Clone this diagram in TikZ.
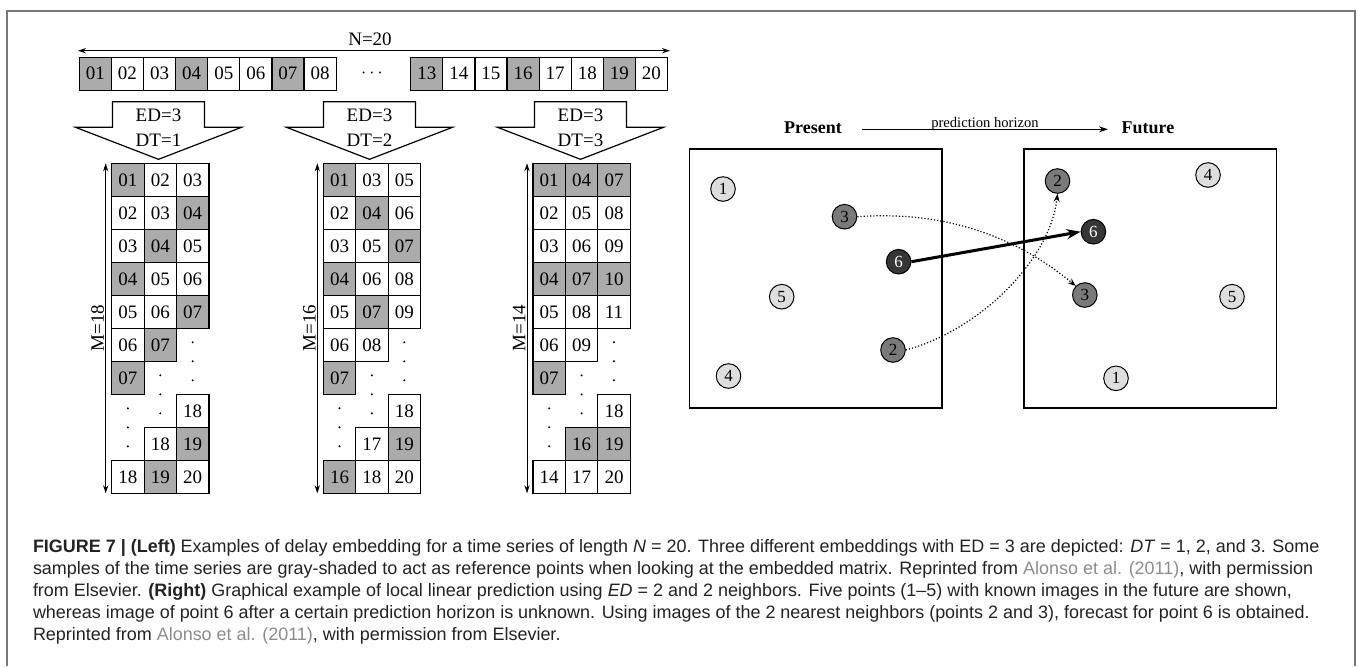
\documentclass[tikz,border=0pt]{standalone}
\usepackage{fontspec}
\usepackage{graphicx}
\setmainfont{Liberation Serif}
\newfontfamily\capfont{Liberation Sans}
\usetikzlibrary{arrows.meta}

\definecolor{cellgray}{HTML}{ABABAB}
\definecolor{ptlight}{HTML}{DEDEDE}
\definecolor{ptmid}{HTML}{7A7A7A}
\definecolor{ptdark}{HTML}{363636}
\definecolor{framegray}{HTML}{777777}
\definecolor{captext}{HTML}{222222}
\definecolor{linkgray}{HTML}{8C8C8C}

\newlength\caplinewd
\newcommand\capLineA{\textbf{FIGURE 7 | (Left)} Examples of delay embedding for a time series of length \textit{N} = 20. Three different embeddings with ED = 3 are depicted: \textit{DT} = 1, 2, and 3. Some}
\newcommand\capLineB{samples of the time series are gray-shaded to act as reference points when looking at the embedded matrix. Reprinted from \textcolor{linkgray}{Alonso et al. (2011)}, with permission}
\newcommand\capLineC{from Elsevier. \textbf{(Right)} Graphical example of local linear prediction using \textit{ED} = 2 and 2 neighbors. Five points (1–5) with known images in the future are shown,}
\newcommand\capLineD{whereas image of point 6 after a certain prediction horizon is unknown. Using images of the 2 nearest neighbors (points 2 and 3), forecast for point 6 is obtained.}
\newcommand\capLineE{Reprinted from \textcolor{linkgray}{Alonso et al. (2011)}, with permission from Elsevier.}
\newcommand\capstyle{\capfont\fontsize{7.5}{9}\selectfont}

% one embedded matrix: name, left edge, list of row/col/label/fill
\newcommand\drawcells[3]{%
  \foreach \r/\c/\t/\f in {#3} {
    \node[cell, fill=\f] (#1-\r-\c) at ({#2+(\c-0.5)*32.4},{163.3+(\r-0.5)*33}) {\t};
  }%
  % vertical ellipses in the empty parts of each column
  \foreach \c/\rc in {3/6, 2/7, 1/8} {
    \foreach \dy in {-19,0,19} {
      \fill ({#2+(\c-0.5)*32.4},{163.3+\rc*33+\dy}) circle (0.55pt);
    }
  }%
}

\tikzset{
  cell/.style={draw, line width=0.6pt, minimum width=16.2pt, minimum height=16.5pt,
    inner sep=0pt, font=\fontsize{9.5}{10}\selectfont},
  blk/.style={draw, line width=0.6pt, fill=white, line join=miter},
  dim/.style={line width=0.5pt, {Stealth[length=4pt,width=2.6pt]}-{Stealth[length=4pt,width=2.6pt]}},
  lbl/.style={inner sep=0pt, font=\fontsize{9.5}{10}\selectfont},
  pt/.style={circle, draw, line width=0.5pt, minimum size=12.3pt, inner sep=0pt,
    font=\fontsize{8.5}{9}\selectfont},
  panel/.style={draw, line width=0.7pt, minimum width=126.25pt, minimum height=129.5pt, inner sep=0pt},
}

\begin{document}
% caption lines share one horizontal scale, fixed by the first line
\settowidth\caplinewd{\capstyle\capLineA}
\pgfmathsetmacro\capfac{643.2/\caplinewd}
\begin{tikzpicture}[x=0.5pt, y=-0.5pt]
\useasboundingbox (0,0) rectangle (1358,666);

% outer frame, open at the bottom
\draw[framegray, line width=1pt] (7,666) -- (7,11) -- (1355,11) -- (1355,666);

% ---------- time series of length N ----------
\coordinate (nl) at (78,50.7);
\coordinate (nr) at (670,50.7);
\draw[dim] (nl) -- (nr);
\node[lbl] (ntitle) at (370,39.5) {N=20};

\foreach \i/\t/\f in {0/01/cellgray,1/02/white,2/03/white,3/04/cellgray,4/05/white,5/06/white,6/07/cellgray,7/08/white} {
  \node[cell, minimum width=16.05pt, fill=\f] (s\t) at ({79.3+(\i+0.5)*32.1},73.7) {\t};
}
\node[lbl] (sdots) at (372,73.7) {$\cdots$};
\foreach \i/\t/\f in {0/13/cellgray,1/14/white,2/15/white,3/16/cellgray,4/17/white,5/18/white,6/19/cellgray,7/20/white} {
  \node[cell, minimum width=16.05pt, fill=\f] (s\t) at ({410.7+(\i+0.5)*32.1},73.7) {\t};
}

% ---------- block arrows ----------
\foreach \cx/\dt in {158.5/1, 369.5/2, 580.5/3} {
  \draw[blk] ({\cx-46},101.7) -- ({\cx+46},101.7) -- ({\cx+46},127.3) -- ({\cx+83},127.3)
    -- (\cx,159.3) -- ({\cx-83},127.3) -- ({\cx-46},127.3) -- cycle;
  \node[lbl] (ed\dt) at (\cx,115) {ED=3};
  \node[lbl] (dt\dt) at (\cx,140) {DT=\dt};
}

% ---------- embedded matrices ----------
\drawcells{ma}{111.7}{1/1/01/cellgray,1/2/02/white,1/3/03/white,
  2/1/02/white,2/2/03/white,2/3/04/cellgray,
  3/1/03/white,3/2/04/cellgray,3/3/05/white,
  4/1/04/cellgray,4/2/05/white,4/3/06/white,
  5/1/05/white,5/2/06/white,5/3/07/cellgray,
  6/1/06/white,6/2/07/cellgray,
  7/1/07/cellgray,
  8/3/18/white,
  9/2/18/white,9/3/19/cellgray,
  10/1/18/white,10/2/19/cellgray,10/3/20/white}

\drawcells{mb}{323.3}{1/1/01/cellgray,1/2/03/white,1/3/05/white,
  2/1/02/white,2/2/04/cellgray,2/3/06/white,
  3/1/03/white,3/2/05/white,3/3/07/cellgray,
  4/1/04/cellgray,4/2/06/white,4/3/08/white,
  5/1/05/white,5/2/07/cellgray,5/3/09/white,
  6/1/06/white,6/2/08/white,
  7/1/07/cellgray,
  8/3/18/white,
  9/2/17/white,9/3/19/cellgray,
  10/1/16/cellgray,10/2/18/white,10/3/20/white}

\drawcells{mc}{533}{1/1/01/cellgray,1/2/04/cellgray,1/3/07/cellgray,
  2/1/02/white,2/2/05/white,2/3/08/white,
  3/1/03/white,3/2/06/white,3/3/09/white,
  4/1/04/cellgray,4/2/07/cellgray,4/3/10/cellgray,
  5/1/05/white,5/2/08/white,5/3/11/white,
  6/1/06/white,6/2/09/white,
  7/1/07/cellgray,
  8/3/18/white,
  9/2/16/cellgray,9/3/19/cellgray,
  10/1/14/white,10/2/17/white,10/3/20/white}

% number of embedded vectors
\foreach \x/\m/\nm in {111.7/18/a, 323.3/16/b, 533/14/c} {
  \coordinate (mtop\nm) at ({\x-6},163.3);
  \coordinate (mbot\nm) at ({\x-6},493.3);
  \draw[dim] (mtop\nm) -- (mbot\nm);
  \node[lbl, rotate=90] (mlab\nm) at ({\x-14},328) {M=\m};
}

% ---------- local linear prediction ----------
\node[inner sep=0pt, anchor=base, font=\bfseries\fontsize{9}{10}\selectfont] (present) at (813,133) {Present};
\node[inner sep=0pt, anchor=base, font=\bfseries\fontsize{9}{10}\selectfont] (future) at (1148,133) {Future};
\coordinate (hl) at (862,129.3);
\coordinate (hr) at (1108,129.3);
\draw[line width=0.5pt, -{Stealth[length=4.5pt,width=3pt]}] (hl) -- (hr);
\node[inner sep=0pt, anchor=base, font=\fontsize{7.3}{8}\selectfont] (horizon) at (985,127.5) {prediction horizon};

\node[panel] (boxp) at (815.75,278.5) {};
\node[panel] (boxf) at (1150.25,278.5) {};

\node[pt, fill=ptlight] (p1) at (723,189) {1};
\node[pt, fill=ptmid]   (p3) at (844.5,216.7) {3};
\node[pt, fill=ptdark, text=white] (p6) at (898.6,261.7) {6};
\node[pt, fill=ptlight] (p5) at (781.7,296.7) {5};
\node[pt, fill=ptmid]   (p2) at (893,350) {2};
\node[pt, fill=ptlight] (p4) at (728.5,376) {4};

\node[pt, fill=ptmid]   (f2) at (1057.5,181) {2};
\node[pt, fill=ptlight] (f4) at (1208,175) {4};
\node[pt, fill=ptdark, text=white] (f6) at (1093.4,231.7) {6};
\node[pt, fill=ptmid]   (f3) at (1084.8,295) {3};
\node[pt, fill=ptlight] (f5) at (1232,296.7) {5};
\node[pt, fill=ptlight] (f1) at (1116,378.3) {1};

\draw[line width=1.5pt, -{Stealth[length=7pt,width=5pt]}] (p6.east) -- (f6.west);
\draw[densely dotted, line width=0.6pt, -{Stealth[length=4pt,width=3pt]}]
  (p3.east) .. controls (950,210) and (1020,240) .. (f3.north west);
\draw[densely dotted, line width=0.6pt, -{Stealth[length=4pt,width=3pt]}]
  (p2.east) .. controls (980,330) and (1050,260) .. (f2.south);

% ---------- caption ----------
\foreach \ln/\y/\nm in {\capLineA/552/ca, \capLineB/574/cb, \capLineC/596/cc, \capLineD/618/cd, \capLineE/640/ce} {
  \node[anchor=base west, inner sep=0pt, text=captext] (\nm) at (32.6,\y) {\scalebox{\capfac}{\capstyle\ln}};
}
\end{tikzpicture}
\end{document}
